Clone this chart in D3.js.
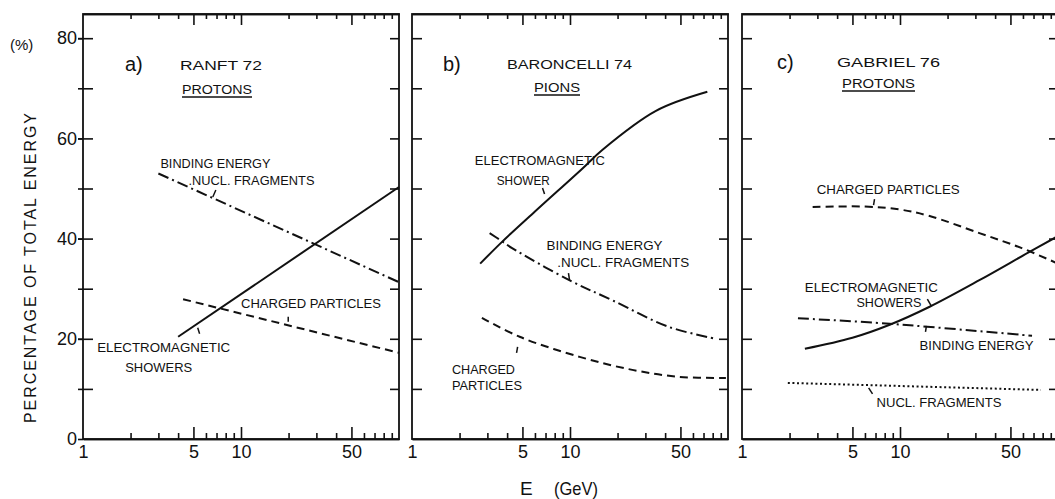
<!DOCTYPE html>
<html>
<head>
<meta charset="utf-8">
<script src="https://cdn.jsdelivr.net/npm/d3@7"></script>
<style>
  body { margin: 0; background: #fff; }
  svg text { font-family: "Liberation Sans", Arial, sans-serif; fill: #111; }
  .frame { fill: none; stroke: #111; stroke-width: 1.8; }
  .tick line, .domain { stroke: #111; stroke-width: 1.6; }
  .curve { fill: none; stroke: #111; stroke-width: 2; }
</style>
</head>
<body>
<div id="chart"></div>
<script>
// energy axis (GeV, log) and percentage axis
var xMinorTicks = [2, 3, 4, 6, 7, 8, 9, 20, 30, 40, 60, 70, 80, 90];
var xMajorTicks = [5, 10, 50];
var xTickLabels = [1, 5, 10, 50];
var yTicks = [10, 20, 30, 40, 50, 60, 70, 80];
var yTickLabels = [0, 20, 40, 60, 80];

// a) Ranft 72, protons
var aEmShowers = [[4, 20.4], [100, 50.3]];
var aBindingNucl = [[3, 53], [100, 31.3]];
var aCharged = [[4.3, 27.9], [100, 17.2]];

// b) Baroncelli 74, pions
var bEmShower = [[2.7, 35], [3.7, 39.3], [6, 45.4], [12, 54], [16, 57.7], [35, 65.5], [74, 69.3]];
var bBindingNucl = [[3.1, 41.1], [3.7, 39.5], [4.3, 38.1], [9.9, 31.7], [18.5, 27.7], [42, 22.4], [84, 20]];
var bCharged = [[2.77, 24.2], [4.8, 20.4], [11.5, 16.4], [24.8, 13.8], [49, 12.4], [97, 12.2]];

// c) Gabriel 76, protons
var cCharged = [[2.8, 46.3], [6, 46.4], [10, 45.8], [15.4, 44.5], [31.8, 41.1], [59, 38.1], [100, 35]];
var cEmShowers = [[2.5, 18], [5, 20.2], [8.6, 22.8], [15.4, 26.4], [31.8, 31.7], [65.6, 37.3], [100, 40.5]];
var cBinding = [[2.26, 24.1], [8.6, 23], [68.5, 20.6]];
var cNuclFragments = [[1.95, 11.2], [78, 9.8]];

var dashed = "8,5", dashDot = "11,4,2,4", dotted = "2,2.6";

var panels = [
  {
    left: 83, tag: "a)", author: "RANFT 72", beam: "PROTONS",
    tagX: 42, tagY: 71, authorX: 97, authorY: 70, authorLen: 82,
    beamX: 99, beamY: 94, beamLen: 70,
    series: [
      { values: aEmShowers, dash: null },
      { values: aBindingNucl, dash: dashDot },
      { values: aCharged, dash: dashed }
    ],
    labels: [
      { text: "BINDING ENERGY", e: 3.09, v: 54.1, len: 110 },
      { text: ".NUCL. FRAGMENTS", e: 4.65, v: 50.7, len: 126 },
      { text: "CHARGED PARTICLES", e: 10, v: 26.1, len: 140 },
      { text: "ELECTROMAGNETIC", e: 1.23, v: 17.4, len: 133 },
      { text: "SHOWERS", e: 1.85, v: 13.4, len: 67 }
    ],
    pointers: [
      [[6.93, 49.7], [6.63, 48.3]],
      [[5.32, 22.2], [5.47, 21.0]],
      [[19.9, 24.4], [19.9, 23.4]]
    ]
  },
  {
    left: 412, tag: "b)", author: "BARONCELLI 74", beam: "PIONS",
    tagX: 31, tagY: 71, authorX: 95, authorY: 69, authorLen: 125,
    beamX: 122, beamY: 92, beamLen: 46,
    series: [
      { values: bEmShower, dash: null },
      { values: bBindingNucl, dash: dashDot },
      { values: bCharged, dash: dashed }
    ],
    labels: [
      { text: "ELECTROMAGNETIC", e: 2.5, v: 54.7, len: 130 },
      { text: "SHOWER", e: 3.44, v: 50.7, len: 53 },
      { text: "BINDING ENERGY", e: 7.1, v: 37.7, len: 116 },
      { text: ".NUCL. FRAGMENTS", e: 8.3, v: 34.3, len: 132 },
      { text: "CHARGED", e: 1.79, v: 13, len: 63 },
      { text: "PARTICLES", e: 1.79, v: 9.8, len: 70 }
    ],
    pointers: [
      [[6.7, 50.1], [6.9, 48.9]],
      [[9.78, 33.1], [9.93, 31.7]],
      [[4.66, 18.4], [4.59, 17.2]]
    ]
  },
  {
    left: 742, tag: "c)", author: "GABRIEL 76", beam: "PROTONS",
    tagX: 35, tagY: 69, authorX: 95, authorY: 67, authorLen: 103,
    beamX: 100, beamY: 88, beamLen: 73,
    series: [
      { values: cCharged, dash: dashed },
      { values: cEmShowers, dash: null },
      { values: cBinding, dash: dashDot },
      { values: cNuclFragments, dash: dotted }
    ],
    labels: [
      { text: "CHARGED PARTICLES", e: 2.97, v: 48.9, len: 143 },
      { text: "ELECTROMAGNETIC", e: 2.5, v: 29.3, len: 133 },
      { text: "SHOWERS", e: 5.3, v: 26.3, len: 65 },
      { text: "BINDING ENERGY", e: 13.3, v: 17.8, len: 114 },
      { text: "NUCL. FRAGMENTS", e: 7.1, v: 6.4, len: 125 }
    ],
    pointers: [
      [[6.9, 47.9], [6.8, 46.7]],
      [[14.9, 27.9], [15.8, 26.5]],
      [[14.7, 22.6], [14.5, 21.4]],
      [[6.33, 10.2], [6.7, 9.0]]
    ]
  }
];

var svgWidth = 1055;
var svgHeight = 499;
var panelWidth = 316;
var plotTop = 14, plotBottom = 439;

var svg = d3.select("#chart")
  .append("svg")
  .attr("width", svgWidth)
  .attr("height", svgHeight);

var yScale = d3.scaleLinear()
  .domain([0, 85])
  .range([plotBottom, plotBottom - 85 * 5.01]);

panels.forEach(function(p, i) {
  var xScale = d3.scaleLog()
    .domain([1, 100])
    .range([0, panelWidth]);

  var g = svg.append("g")
    .attr("transform", `translate(${p.left}, 0)`);

  g.append("rect")
    .attr("class", "frame")
    .attr("x", 0)
    .attr("y", plotTop)
    .attr("width", panelWidth)
    .attr("height", plotBottom - plotTop);

  // ticks on bottom and top, pointing inward
  [[xMinorTicks, -6], [xMajorTicks, -12]].forEach(function(t) {
    g.append("g")
      .attr("transform", `translate(0, ${plotBottom})`)
      .call(d3.axisBottom(xScale).tickValues(t[0]).tickSize(t[1]).tickSizeOuter(0).tickFormat(""));
    g.append("g")
      .attr("transform", `translate(0, ${plotTop})`)
      .call(d3.axisTop(xScale).tickValues(t[0]).tickSize(t[1] + 1).tickSizeOuter(0).tickFormat(""));
  });

  // tick labels under the bottom axis
  var xl = g.append("g")
    .attr("transform", `translate(0, ${plotBottom})`)
    .call(d3.axisBottom(xScale).tickValues(xTickLabels).tickSize(0).tickPadding(6).tickFormat(d3.format("d")));
  xl.select(".domain").remove();
  xl.selectAll("text").style("font-size", "18px").attr("fill", "#111");

  // left / right ticks
  g.append("g")
    .call(d3.axisLeft(yScale).tickValues(yTicks).tickSize(i === 0 ? 5 : 0).tickSizeOuter(0).tickFormat(""))
    .select(".domain").remove();
  g.append("g")
    .call(d3.axisLeft(yScale).tickValues(yTicks).tickSize(-10).tickSizeOuter(0).tickFormat(""))
    .select(".domain").remove();
  g.append("g")
    .attr("transform", `translate(${panelWidth}, 0)`)
    .call(d3.axisRight(yScale).tickValues(yTicks).tickSize(-9).tickSizeOuter(0).tickFormat(""))
    .select(".domain").remove();

  if (i === 0) {
    var yl = g.append("g")
      .call(d3.axisLeft(yScale).tickValues(yTickLabels).tickSize(5).tickPadding(1));
    yl.select(".domain").remove();
    yl.selectAll("text").style("font-size", "18px").attr("fill", "#111");
  }

  // curves
  var line = d3.line()
    .x(d => xScale(d[0]))
    .y(d => yScale(d[1]))
    .curve(d3.curveCatmullRom.alpha(0.5));

  p.series.forEach(function(s) {
    g.append("path")
      .datum(s.values)
      .attr("class", "curve")
      .attr("stroke-dasharray", s.dash)
      .attr("d", line);
  });

  // curve labels and their small pointer marks
  p.labels.forEach(function(l) {
    g.append("text")
      .attr("x", xScale(l.e))
      .attr("y", yScale(l.v))
      .attr("textLength", l.len)
      .attr("lengthAdjust", "spacingAndGlyphs")
      .style("font-size", "13px")
      .text(l.text);
  });

  p.pointers.forEach(function(pt) {
    g.append("line")
      .attr("x1", xScale(pt[0][0]))
      .attr("y1", yScale(pt[0][1]))
      .attr("x2", xScale(pt[1][0]))
      .attr("y2", yScale(pt[1][1]))
      .attr("stroke", "#111")
      .attr("stroke-width", 1.5);
  });

  // panel titles
  g.append("text")
    .attr("x", p.tagX)
    .attr("y", p.tagY)
    .style("font-size", "20px")
    .text(p.tag);

  g.append("text")
    .attr("x", p.authorX)
    .attr("y", p.authorY)
    .attr("textLength", p.authorLen)
    .attr("lengthAdjust", "spacingAndGlyphs")
    .style("font-size", "12px")
    .text(p.author);

  g.append("text")
    .attr("x", p.beamX)
    .attr("y", p.beamY)
    .attr("textLength", p.beamLen)
    .attr("lengthAdjust", "spacingAndGlyphs")
    .style("font-size", "12px")
    .text(p.beam);

  g.append("line")
    .attr("x1", p.beamX)
    .attr("x2", p.beamX + p.beamLen)
    .attr("y1", p.beamY + 3)
    .attr("y2", p.beamY + 3)
    .attr("stroke", "#111")
    .attr("stroke-width", 1.4);
});

// axis titles
svg.append("text")
  .attr("x", 10)
  .attr("y", 50)
  .style("font-size", "15px")
  .text("(%)");

svg.append("text")
  .attr("transform", "translate(36, 268) rotate(-90)")
  .attr("text-anchor", "middle")
  .attr("textLength", 310)
  .attr("lengthAdjust", "spacing")
  .style("font-size", "16px")
  .text("PERCENTAGE OF TOTAL ENERGY");

svg.append("text")
  .attr("x", 520)
  .attr("y", 495)
  .style("font-size", "19px")
  .text("E");

svg.append("text")
  .attr("x", 554)
  .attr("y", 495)
  .attr("textLength", 44)
  .attr("lengthAdjust", "spacingAndGlyphs")
  .style("font-size", "19px")
  .text("(GeV)");
</script>
</body>
</html>
